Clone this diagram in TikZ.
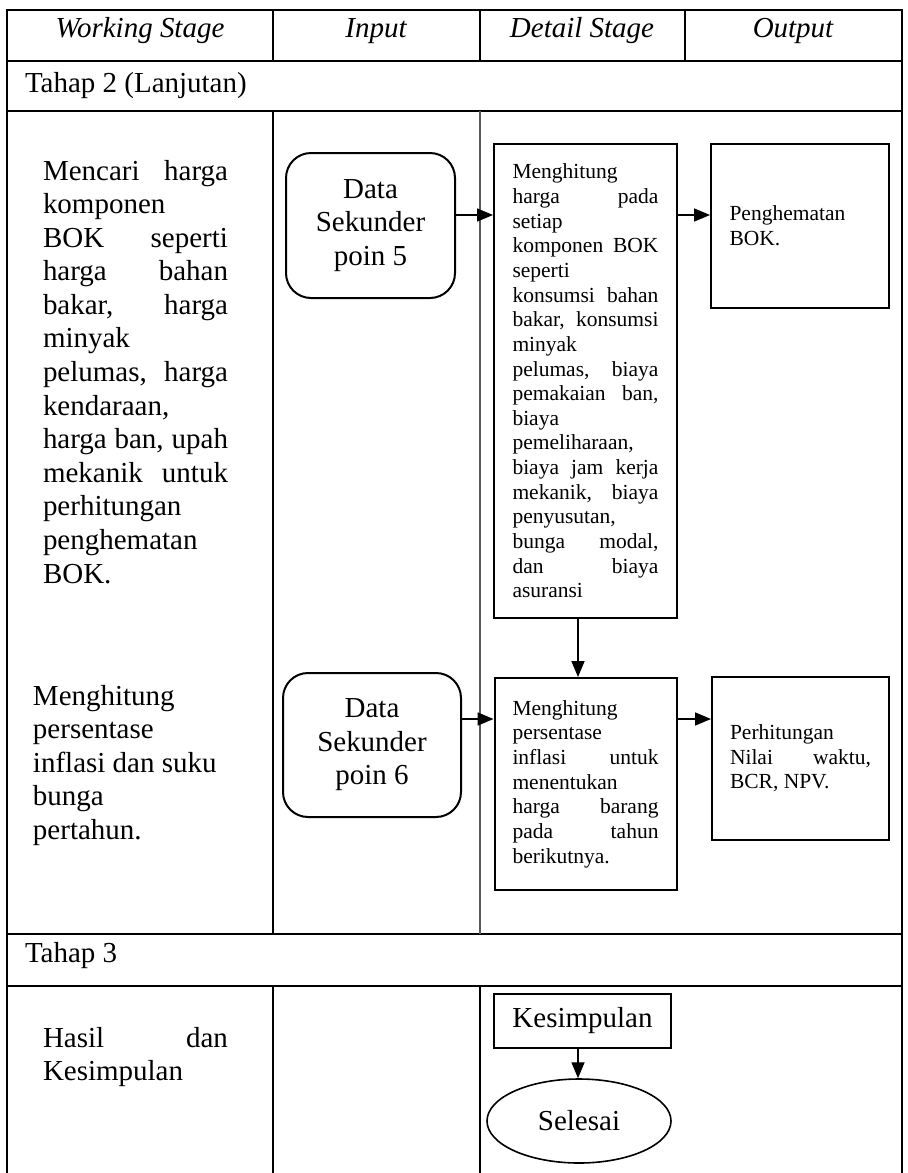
\documentclass[tikz,border=0pt]{standalone}
\usepackage{fontspec}
\setmainfont{Liberation Serif}
\usetikzlibrary{arrows.meta,shapes.geometric}

\newlength{\du}
\setlength{\du}{0.414pt}

\newcommand{\maintext}{\fontsize{12}{13.9}\selectfont}
\newcommand{\boxtext}{\fontsize{8.9}{10.2}\selectfont}
\tolerance=10000
\hyphenpenalty=10000

\definecolor{tablecolor}{rgb}{0.000000, 0.000000, 0.000000}
\definecolor{splitcolor}{rgb}{0.350000, 0.350000, 0.350000}

\tikzset{
  headtext/.style={anchor=base, inner sep=0pt, font=\maintext\itshape},
  rowtext/.style={anchor=base west, inner sep=0pt, font=\maintext},
  stagetext/.style={anchor=north west, inner sep=0pt, text width=185\du, align=justify, font=\maintext},
  datanode/.style={draw, line width=2\du, rounded corners=25\du, inner sep=0pt, align=center, font=\maintext},
  detailnode/.style={draw, line width=2\du, inner sep=0pt, text width=146\du, align=justify, font=\boxtext},
  outnode/.style={draw, line width=2\du, inner sep=0pt, text width=141\du, align=justify, font=\boxtext},
  flowarrow/.style={line width=1.3\du, -{Triangle[length=6.6pt,width=5.4pt]}},
}

\begin{document}
\begin{tikzpicture}
\pgftransformxscale{1.000000}
\pgftransformyscale{-1.000000}
\useasboundingbox (0\du,0\du) rectangle (907\du,1173\du);
\pgfsetstrokecolor{tablecolor}
\pgfsetlinewidth{2\du}
% table frame
\draw (7\du,1173\du)--(7\du,10\du)--(902\du,10\du)--(902\du,1173\du);
\draw (7\du,61\du)--(902\du,61\du);
\draw (7\du,111\du)--(902\du,111\du);
\draw (7\du,934\du)--(902\du,934\du);
\draw (7\du,986\du)--(902\du,986\du);
\draw (273\du,10\du)--(273\du,61\du);
\draw (480\du,10\du)--(480\du,61\du);
\draw (685\du,10\du)--(685\du,61\du);
\draw (273\du,111\du)--(273\du,934\du);
\draw[line width=1.3\du, splitcolor] (480\du,111\du)--(480\du,934\du);
\draw (273\du,986\du)--(273\du,1173\du);
\draw (480\du,986\du)--(480\du,1173\du);

% header
\node[headtext] (hwork) at (140\du,37\du){Working Stage};
\node[headtext] (hinput) at (376\du,37\du){Input};
\node[headtext] (hdetail) at (582\du,37\du){Detail Stage};
\node[headtext] (houtput) at (793\du,37\du){Output};
\node[rowtext] (tahap2) at (24\du,92\du){Tahap 2 (Lanjutan)};
\node[rowtext] (tahap3) at (24\du,962\du){Tahap 3};

% working stage column
\node[stagetext] (work5) at (42\du,159\du){Mencari harga\linebreak
komponen\newline
BOK seperti\linebreak
harga bahan\linebreak
bakar, harga\linebreak
minyak\newline
pelumas, harga\linebreak
kendaraan,\newline
harga ban, upah\linebreak
mekanik untuk\linebreak
perhitungan\newline
penghematan\newline
BOK.};
\node[stagetext] (work6) at (32\du,684\du){Menghitung\newline
persentase\newline
inflasi dan suku\newline
bunga\newline
pertahun.};
\node[stagetext] (workend) at (42\du,1026\du){Hasil dan\linebreak
Kesimpulan};

% input column
\node[datanode, minimum width=169\du, minimum height=145\du] (data5) at (370.5\du,225.5\du){Data\\Sekunder\\poin 5};
\node[datanode, minimum width=178\du, minimum height=144\du] (data6) at (372\du,745\du){Data\\Sekunder\\poin 6};

% detail stage and output
\node[detailnode, minimum width=183\du, minimum height=474\du] (detail5) at (585.5\du,381\du){Menghitung\newline
harga pada\linebreak
setiap\newline
komponen BOK\linebreak
seperti\newline
konsumsi bahan\linebreak
bakar, konsumsi\linebreak
minyak\newline
pelumas, biaya\linebreak
pemakaian ban,\linebreak
biaya\newline
pemeliharaan,\newline
biaya jam kerja\linebreak
mekanik, biaya\linebreak
penyusutan,\newline
bunga modal,\linebreak
dan biaya\linebreak
asuransi};
\node[outnode, minimum width=178\du, minimum height=164\du] (out5) at (800\du,226\du){Penghematan\newline
BOK.};
\node[detailnode, minimum width=182\du, minimum height=212\du] (detail6) at (585.5\du,784\du){Menghitung\newline
persentase\newline
inflasi untuk\linebreak
menentukan\newline
harga barang\linebreak
pada tahun\linebreak
berikutnya.};
\node[outnode, minimum width=177\du, minimum height=163\du] (out6) at (800.5\du,758.5\du){Perhitungan\newline
Nilai waktu,\linebreak
BCR, NPV.};

\node[draw, line width=2\du, inner sep=0pt, font=\maintext, minimum width=177\du, minimum height=54\du] (kesimpulan) at (582.5\du,1021\du){Kesimpulan};
\node[ellipse, draw, line width=1.6\du, inner sep=0pt, font=\maintext, minimum width=184\du, minimum height=84\du] (selesai) at (579\du,1121\du){Selesai};

\coordinate (row5) at (0\du,215\du);
\coordinate (row6) at (0\du,719\du);
\coordinate (down) at (578\du,0\du);
{
\draw[flowarrow] (data5.east |- row5)--(detail5.west |- row5);
\draw[flowarrow] (detail5.east |- row5)--(out5.west |- row5);
\draw[flowarrow] (detail5.south -| down)--(detail6.north -| down);
\draw[flowarrow] (data6.east |- row6)--(detail6.west |- row6);
\draw[flowarrow] (detail6.east |- row6)--(out6.west |- row6);
\draw[flowarrow] (kesimpulan.south -| down)--(selesai.north -| down);
}
\end{tikzpicture}
\end{document}
